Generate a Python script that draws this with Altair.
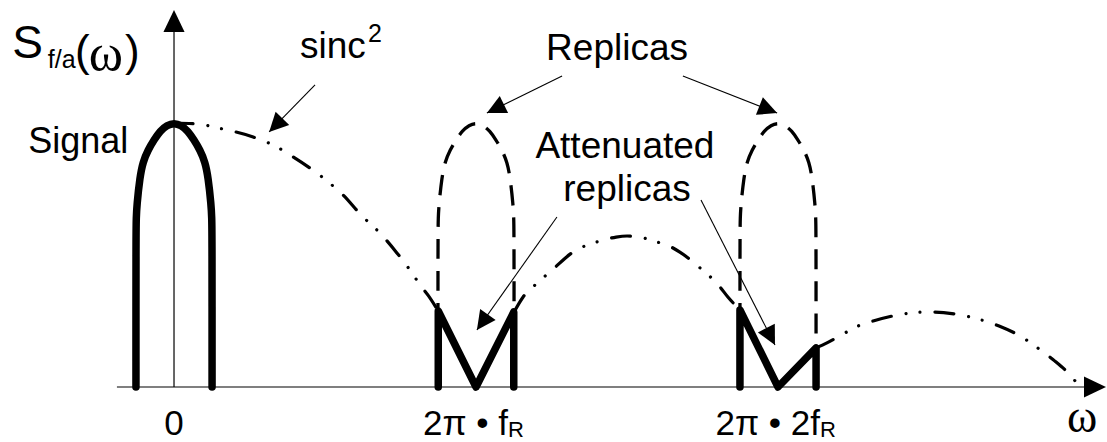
import math

import altair as alt
import pandas as pd

# Frequency in units of 2π·f_R, amplitude normalised to the baseband peak.
X_MIN, X_MAX = -0.5762, 3.0894
Y_MIN, Y_MAX = -0.2083, 1.4659
W, H = 1107, 442
PX_PER_X = W / (X_MAX - X_MIN)
PX_PER_Y = H / (Y_MAX - Y_MIN)

# Baseband signal spectrum around ω = 0
SIG_W = [-0.126, -0.126, -0.125, -0.123, -0.113, -0.103, -0.086, -0.066, -0.046, -0.023, 0.0,
         0.023, 0.046, 0.066, 0.086, 0.103, 0.113, 0.123, 0.125, 0.126, 0.126]
SIG_S = [0.0, 0.583, 0.640, 0.689, 0.795, 0.852, 0.898, 0.936, 0.970, 0.992, 1.0,
         0.992, 0.970, 0.936, 0.898, 0.852, 0.795, 0.689, 0.640, 0.583, 0.0]

# Image replicas sit at multiples of the sampling frequency
REPLICA_CENTRES = [1, 2]

# sinc² envelope of the zero-order hold, one list per lobe
SINC1_W = [0.0, 0.086, 0.129, 0.179, 0.262, 0.341, 0.384, 0.454, 0.523, 0.560,
           0.619, 0.682, 0.738, 0.788, 0.815, 0.841, 0.875]
SINC1_S = [1.0, 0.996, 0.985, 0.973, 0.947, 0.909, 0.879, 0.826, 0.765, 0.727,
           0.652, 0.583, 0.508, 0.432, 0.386, 0.348, 0.288]
SINC2_W = [1.126, 1.156, 1.195, 1.252, 1.321, 1.368, 1.411, 1.464, 1.5, 1.543,
           1.586, 1.632, 1.675, 1.742, 1.805, 1.834, 1.874]
SINC2_S = [0.284, 0.341, 0.386, 0.443, 0.511, 0.538, 0.553, 0.568, 0.572, 0.568,
           0.553, 0.538, 0.511, 0.451, 0.383, 0.341, 0.292]
SINC3_W = [2.126, 2.162, 2.222, 2.265, 2.315, 2.397, 2.480, 2.517, 2.603, 2.685,
           2.732, 2.808, 2.877, 2.917, 2.954, 3.0]
SINC3_S = [0.148, 0.167, 0.205, 0.231, 0.250, 0.273, 0.284, 0.284, 0.273, 0.250,
           0.231, 0.189, 0.133, 0.098, 0.061, 0.0]

# Replicas after sinc² attenuation
ATT1_W = [0.875, 0.875, 1.0, 1.125, 1.125]
ATT1_S = [0.0, 0.288, 0.0, 0.284, 0.0]
ATT2_W = [1.874, 1.874, 2.0, 2.126, 2.126]
ATT2_S = [0.0, 0.292, 0.0, 0.148, 0.0]

# Tick labels on the ω axis
TICKS = [0, 1, 2]
TICK_TEXT = ["0", "2π • f", "2π • 2f"]
TICK_SUB = ["", "R", "R"]

# Annotation arrows: start and tip
ARROW_W0 = [0.467, 1.285, 1.685, 1.268, 1.745]
ARROW_S0 = [1.144, 1.178, 1.178, 0.644, 0.708]
ARROW_W1 = [0.315, 1.036, 1.997, 1.003, 1.990]
ARROW_S1 = [0.966, 1.038, 1.038, 0.216, 0.159]

XS = alt.Scale(domain=[X_MIN, X_MAX], nice=False, zero=False)
YS = alt.Scale(domain=[Y_MIN, Y_MAX], nice=False, zero=False)
SANS = "Liberation Sans"
SERIF = "Liberation Serif"


def xy(xf="w", yf="s"):
    return dict(x=alt.X(f"{xf}:Q", scale=XS, axis=None),
                y=alt.Y(f"{yf}:Q", scale=YS, axis=None))


def path_df(groups):
    rows = []
    for g, (ws, ss) in enumerate(groups):
        for k, (w, s) in enumerate(zip(ws, ss)):
            rows.append({"g": g, "k": k, "w": w, "s": s})
    return pd.DataFrame(rows)


def heading(dw, ds):
    return math.degrees(math.atan2(dw * PX_PER_X, ds * PX_PER_Y)) % 360


layers = []

# axes
layers.append(alt.Chart(pd.DataFrame({"w": [-0.189], "w2": [3.06], "s": [0.0]}))
              .mark_rule(color="black", strokeWidth=1.2)
              .encode(**xy(), x2="w2:Q"))
layers.append(alt.Chart(pd.DataFrame({"w": [0.0], "s": [0.0], "s2": [1.40]}))
              .mark_rule(color="black", strokeWidth=1.2)
              .encode(**xy(), y2="s2:Q"))
axis_heads = pd.DataFrame({"w": [0.0, 3.086], "s": [1.428, 0.0],
                           "a": [0.0, 90.0]})
layers.append(alt.Chart(axis_heads)
              .mark_point(shape="M0,0L0.48,1L-0.48,1Z", filled=True, size=1936,
                          color="black", opacity=1, strokeWidth=0)
              .encode(**xy(), angle=alt.Angle("a:Q", scale=None)))

# sinc² envelope (dash-dot-dot)
sinc = path_df([(SINC1_W, SINC1_S), (SINC2_W, SINC2_S), (SINC3_W, SINC3_S)])
layers.append(alt.Chart(sinc)
              .mark_line(color="black", strokeWidth=3.2, strokeCap="round",
                         strokeDash=[19, 15, 0.01, 14, 0.01, 15],
                         interpolate="monotone")
              .encode(**xy(), detail="g:N", order="k:Q"))

# unattenuated replicas (dashed)
replicas = path_df([([w + c for w in SIG_W], SIG_S) for c in REPLICA_CENTRES])
layers.append(alt.Chart(replicas)
              .mark_line(color="black", strokeWidth=3.3, strokeDash=[20, 12],
                         interpolate="basis")
              .encode(**xy(), detail="g:N", order="k:Q"))

# baseband signal
layers.append(alt.Chart(path_df([(SIG_W, SIG_S)]))
              .mark_line(color="black", strokeWidth=7.5, strokeCap="round",
                         strokeJoin="round", interpolate="basis")
              .encode(**xy(), detail="g:N", order="k:Q"))

# attenuated replicas
layers.append(alt.Chart(path_df([(ATT1_W, ATT1_S), (ATT2_W, ATT2_S)]))
              .mark_line(color="black", strokeWidth=7.5, strokeCap="round",
                         strokeJoin="round")
              .encode(**xy(), detail="g:N", order="k:Q"))

# annotation arrows
arrows = pd.DataFrame({"w": ARROW_W0, "s": ARROW_S0, "w1": ARROW_W1, "s1": ARROW_S1})
arrows["a"] = [heading(r.w1 - r.w, r.s1 - r.s) for r in arrows.itertuples()]
layers.append(alt.Chart(arrows)
              .mark_rule(color="black", strokeWidth=1.1)
              .encode(**xy(), x2="w1:Q", y2="s1:Q"))
layers.append(alt.Chart(arrows)
              .mark_point(shape="M0,0L0.5,1L-0.5,1Z", filled=True, size=1444,
                          color="black", opacity=1, strokeWidth=0)
              .encode(**xy("w1", "s1"), angle=alt.Angle("a:Q", scale=None)))


def label(text, w, s, size, align="left", font=SANS, dx=0):
    return (alt.Chart(pd.DataFrame({"w": [w], "s": [s], "t": [text]}))
            .mark_text(align=align, baseline="alphabetic", fontSize=size,
                       font=font, color="black", dx=dx)
            .encode(**xy(), text="t:N"))


# tick labels
TICK_S = -0.180
SUB_S = -0.191
TICK_DX = [0, 32, 42]
for t, txt, sub, dx in zip(TICKS, TICK_TEXT, TICK_SUB, TICK_DX):
    if sub:
        layers.append(label(txt, t, TICK_S, 35, align="right", dx=dx))
        layers.append(label(sub, t, SUB_S, 22, align="left", dx=dx))
    else:
        layers.append(label(txt, t, TICK_S, 35, align="center"))

# axis titles
layers.append(label("ω", 3.007, -0.170, 46, align="center", font=SERIF))
layers.append(label("S", -0.536, 1.246, 46))
layers.append(label("f/a", -0.418, 1.208, 25))
layers.append(label("(", -0.328, 1.216, 44))
layers.append(label("ω", -0.282, 1.201, 52, font=SERIF))
layers.append(label(")", -0.162, 1.216, 44))

# annotations
layers.append(label("Signal", -0.483, 0.886, 36))
layers.append(label("sinc", 0.417, 1.246, 37))
layers.append(label("2", 0.642, 1.307, 25))
layers.append(label("Replicas", 1.467, 1.239, 37, align="center"))
layers.append(label("Attenuated", 1.493, 0.867, 37, align="center"))
layers.append(label("replicas", 1.500, 0.705, 37, align="center"))

chart = (alt.layer(*layers)
         .properties(width=W, height=H, padding=0, autosize="none",
                     background="white")
         .configure_view(stroke=None))

chart.save("out.html", embed_options={"renderer": "svg", "actions": False})
